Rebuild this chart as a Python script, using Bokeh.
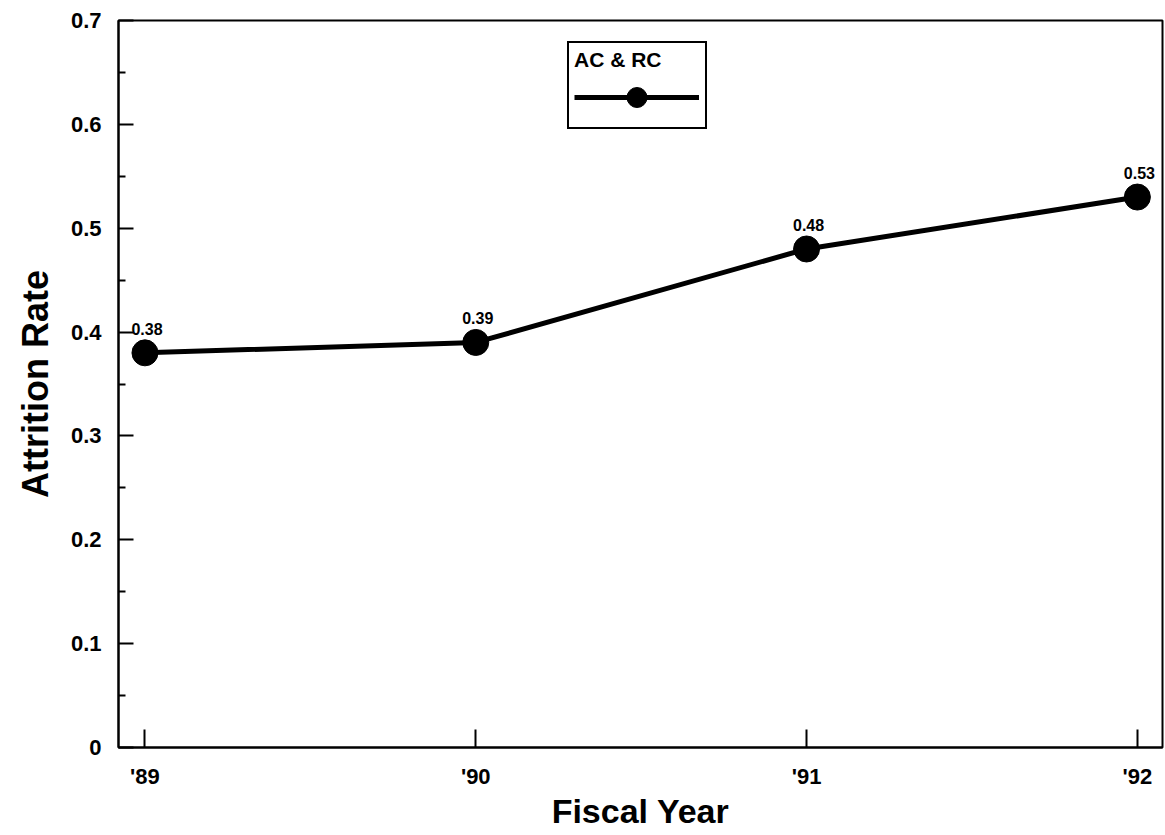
from bokeh.plotting import figure
from bokeh.models import FixedTicker, Legend, LegendItem, ColumnDataSource, LabelSet
from bokeh.core.properties import value
from bokeh.embed import file_html
from bokeh.resources import INLINE

years = [89, 90, 91, 92]
year_labels = ["'89", "'90", "'91", "'92"]
rates = [0.38, 0.39, 0.48, 0.53]
rate_labels = ["0.38", "0.39", "0.48", "0.53"]
y_ticks = [0, 0.1, 0.2, 0.3, 0.4, 0.5, 0.6, 0.7]
y_tick_labels = ["0", "0.1", "0.2", "0.3", "0.4", "0.5", "0.6", "0.7"]
y_minor = [0.05, 0.15, 0.25, 0.35, 0.45, 0.55, 0.65]

FONT = "Liberation Sans"

p = figure(width=1164, height=833, output_backend="svg", toolbar_location=None,
           x_range=(88.92, 92.076), y_range=(0, 0.7),
           min_border_left=118, min_border_right=2, min_border_top=20, min_border_bottom=86)
p.grid.visible = False
p.outline_line_color = "black"
p.outline_line_width = 2
p.outline_line_alpha = 1

src = ColumnDataSource(dict(x=years, y=rates, lab=rate_labels))
ln = p.line("x", "y", source=src, line_color="black", line_width=5)
sc = p.scatter("x", "y", source=src, size=26, fill_color="black", line_color="black")

labels = LabelSet(x="x", y="y", text="lab", source=src, text_align="center",
                  text_baseline="bottom", y_offset=18, x_offset=2,
                  text_font=value(FONT), text_font_style="bold", text_font_size="16px",
                  text_color="black")
p.add_layout(labels)

# x axis
p.xaxis.ticker = FixedTicker(ticks=years)
p.xaxis.major_label_overrides = {y: l for y, l in zip(years, year_labels)}
p.xaxis.major_tick_in = 18
p.xaxis.major_tick_out = 0
p.xaxis.minor_tick_line_color = None
p.xaxis.axis_line_width = 2
p.xaxis.major_tick_line_width = 2
p.xaxis.major_label_text_font = FONT
p.xaxis.major_label_text_font_style = "bold"
p.xaxis.major_label_text_font_size = "22px"
p.xaxis.major_label_text_color = "black"
p.xaxis.major_label_standoff = 16
p.xaxis.axis_label = "Fiscal Year"
p.xaxis.axis_label_text_font = FONT
p.xaxis.axis_label_text_font_style = "bold"
p.xaxis.axis_label_text_font_size = "34px"
p.xaxis.axis_label_text_color = "black"
p.xaxis.axis_label_standoff = 0

# y axis
p.yaxis.ticker = FixedTicker(ticks=y_ticks, minor_ticks=y_minor)
p.yaxis.major_label_overrides = {t: l for t, l in zip(y_ticks, y_tick_labels)}
p.yaxis.major_tick_in = 15
p.yaxis.major_tick_out = 0
p.yaxis.minor_tick_in = 7
p.yaxis.minor_tick_out = 0
p.yaxis.axis_line_width = 2
p.yaxis.major_tick_line_width = 2
p.yaxis.minor_tick_line_width = 2
p.yaxis.major_label_text_font = FONT
p.yaxis.major_label_text_font_style = "bold"
p.yaxis.major_label_text_font_size = "22px"
p.yaxis.major_label_text_color = "black"
p.yaxis.major_label_standoff = 17
p.yaxis.axis_label = "Attrition Rate"
p.yaxis.axis_label_text_font = FONT
p.yaxis.axis_label_text_font_style = "bold"
p.yaxis.axis_label_text_font_size = "36px"
p.yaxis.axis_label_text_color = "black"
p.yaxis.axis_label_standoff = 12

legend = Legend(items=[LegendItem(label=" ", renderers=[ln, sc])],
                title="AC & RC", location=(449, 618),
                glyph_width=125, glyph_height=50, label_width=1, label_standoff=0,
                padding=5, spacing=0, margin=0,
                border_line_color="black", border_line_width=2, border_line_alpha=1,
                title_text_font=FONT, title_text_font_style="bold", title_text_font_size="21px",
                title_text_color="black",
                title_standoff=0, label_text_font_size="4px")
p.add_layout(legend)

open("out.html", "w").write(file_html(p, INLINE))
